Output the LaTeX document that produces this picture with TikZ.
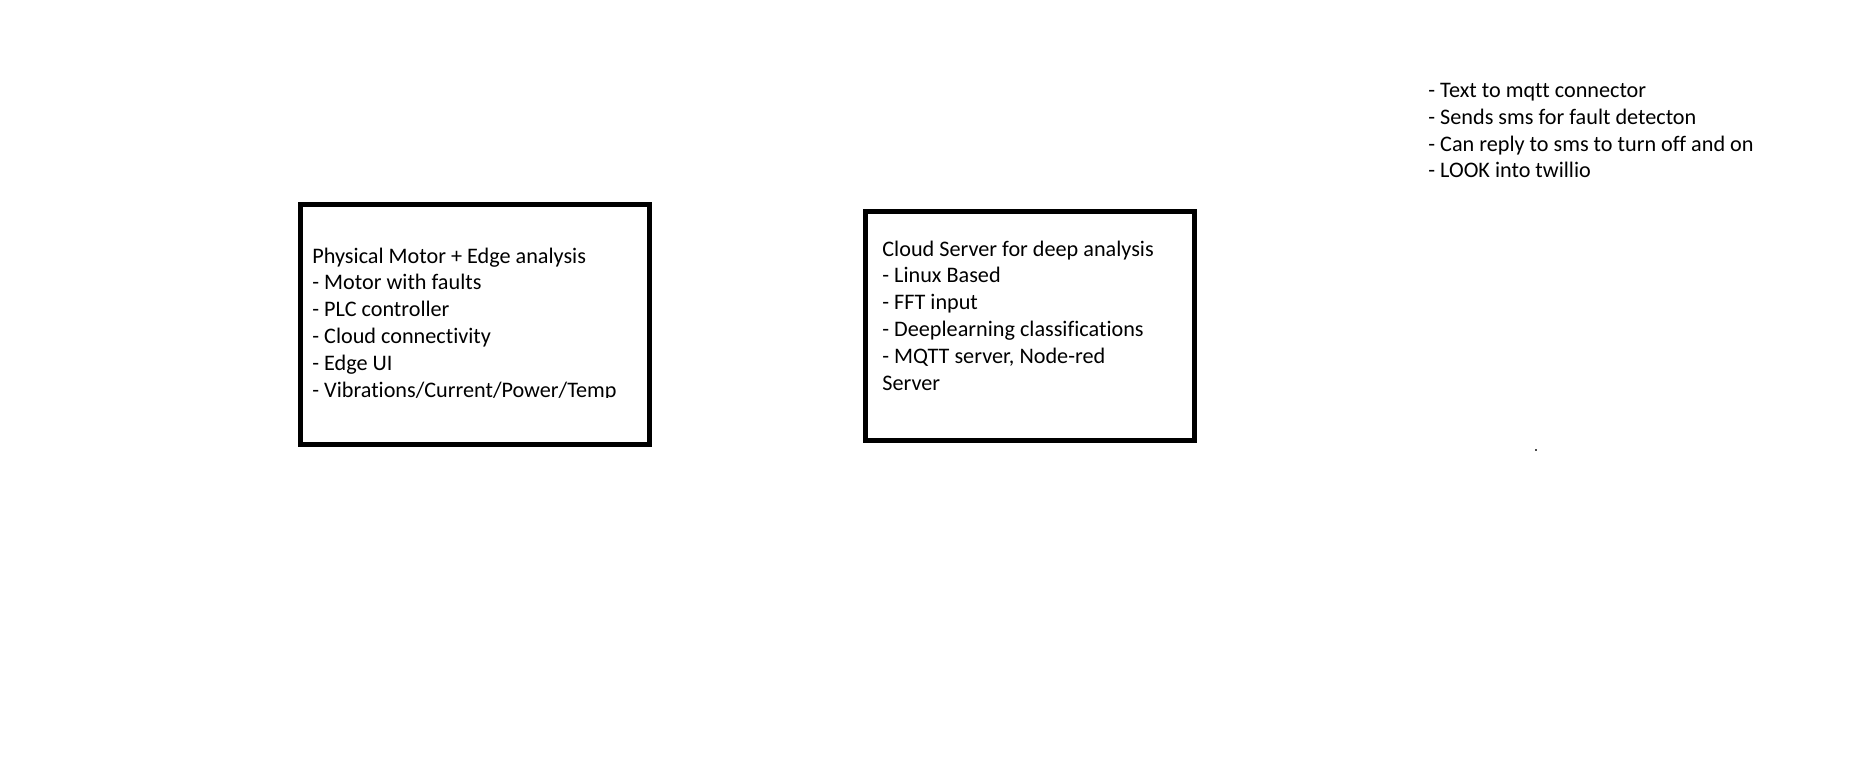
\documentclass[tikz,border=0pt]{standalone}
\usepackage{fontspec}
\setmainfont{Carlito}[Ligatures=NoCommon]
\begin{document}
\begin{tikzpicture}[x=0.5pt,y=-0.5pt,
  box/.style={draw=black,line width=2.5pt,rectangle,inner sep=0pt,outer sep=0pt,anchor=north west},
  txt/.style={anchor=base west,inner sep=0pt,align=left,font=\fontsize{11.1pt}{13.4pt}\selectfont,text=black}]
\path[use as bounding box,fill=white] (0,0) rectangle (1851,770);
\node[box,minimum width=174.5pt,minimum height=120pt] (b1) at (300.5,204.5) {};
\node[box,minimum width=164.5pt,minimum height=114.5pt] (b2) at (865.5,211.5) {};
\begin{scope}
\clip (0,0) rectangle (1851,397);
\node[txt] (t1) at (312,397) {Physical Motor + Edge analysis\\- Motor with faults\\- PLC controller\\- Cloud connectivity\\- Edge UI\\- Vibrations/Current/Power/Temp};
\end{scope}
\node[txt] (t2) at (882,390) {Cloud Server for deep analysis\\- Linux Based\\- FFT input\\- Deeplearning classifications\\- MQTT server, Node-red\\Server};
\node[txt] (t3) at (1428,178) {- Text to mqtt connector\\- Sends sms for fault detecton\\- Can reply to sms to turn off and on\\- LOOK into twillio};
\fill[black!70] (1535,449) rectangle (1537,451);
\end{tikzpicture}
\end{document}
